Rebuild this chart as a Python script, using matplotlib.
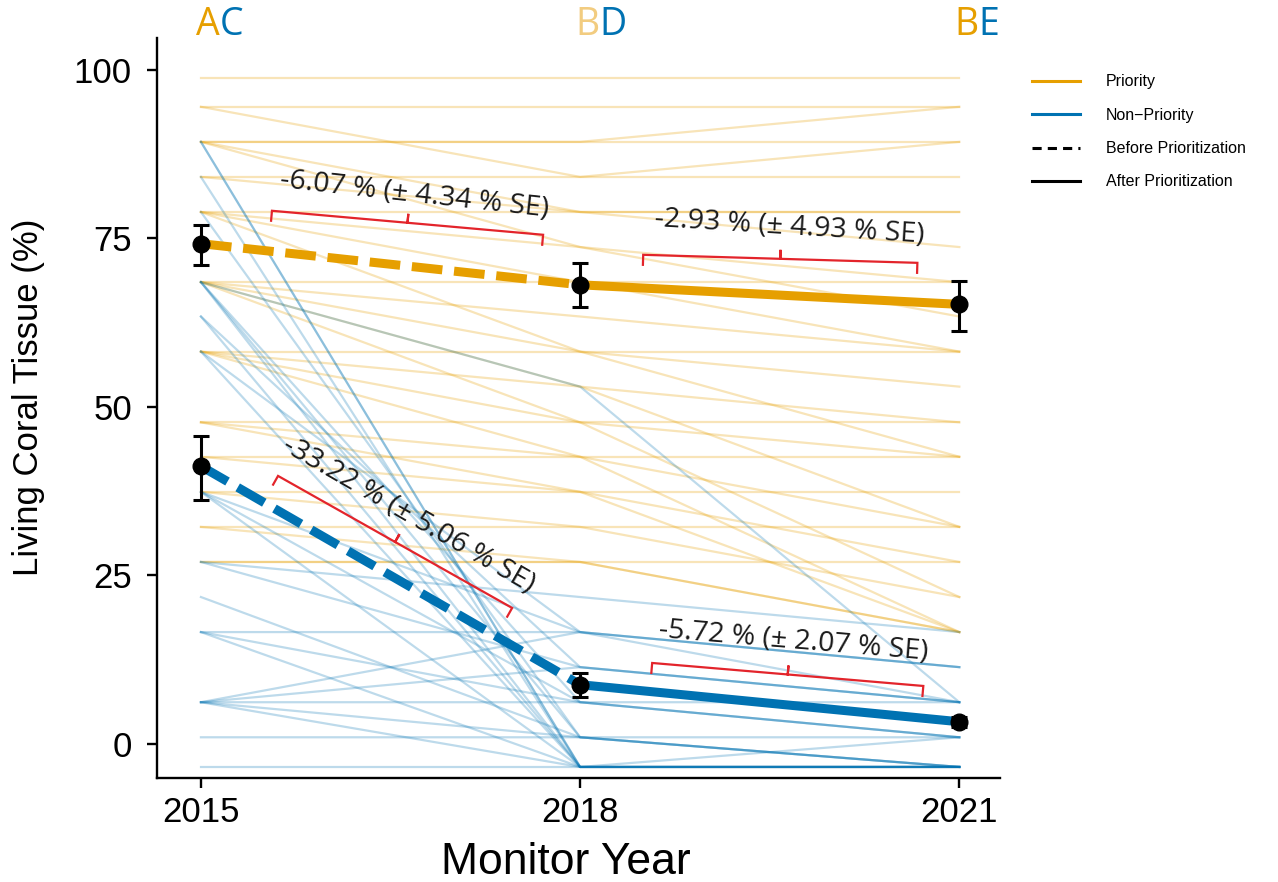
import numpy as np
import matplotlib.pyplot as plt
from matplotlib.lines import Line2D
from matplotlib.transforms import blended_transform_factory

years = [2015, 2018, 2021]

# individual colonies, priority (orange)
pri_2015 = [98.7, 94.5, 94.5, 89.3, 89.3, 89.3, 89.3, 84.1, 84.1, 78.9, 78.9, 78.9, 78.9,
            68.5, 68.5, 68.5, 68.5, 68.5, 58.2, 58.2, 58.2, 58.2, 47.7, 47.7, 47.7,
            42.6, 42.6, 37.4, 37.4, 32.2, 32.2, 27.0, 27.0]
pri_2018 = [98.7, 94.5, 84.1, 89.3, 89.3, 78.9, 73.7, 84.1, 78.9, 78.9, 73.7, 68.5, 58.2,
            68.5, 63.4, 58.2, 53.0, 47.7, 58.2, 53.0, 47.7, 42.6, 47.7, 42.6, 37.4,
            42.6, 37.4, 37.4, 32.2, 32.2, 27.0, 27.0, 27.0]
pri_2021 = [98.7, 94.5, 89.3, 89.3, 94.5, 78.9, 68.5, 84.1, 73.7, 78.9, 63.4, 58.2, 42.6,
            68.5, 58.2, 53.0, 32.2, 21.8, 58.2, 47.7, 42.6, 16.6, 47.7, 32.2, 16.6,
            42.6, 27.0, 37.4, 21.8, 32.2, 16.6, 27.0, 16.6]

# individual colonies, non-priority (blue)
non_2015 = [89.3, 89.3, 84.1, 78.9, 68.5, 68.5, 68.5, 68.5, 63.4, 63.4, 58.2, 58.2,
            37.4, 37.4, 37.4, 27.0, 27.0, 21.8, 16.6, 16.6, 16.6,
            6.2, 6.2, 6.2, 6.2, 6.2, 1.0, -3.4]
non_2018 = [-3.4, -3.4, -3.4, 1.0, 53.0, -3.4, 1.0, 6.2, -3.4, 11.4, -3.4, 16.6,
            -3.4, 16.6, 6.2, 21.8, 11.4, 1.0, 16.6, 6.2, -3.4,
            16.6, 6.2, 1.0, -3.4, 11.4, 1.0, -3.4]
non_2021 = [-3.4, 1.0, -3.4, -3.4, 6.2, -3.4, 1.0, 1.0, -3.4, 6.2, -3.4, 11.4,
            -3.4, 11.4, 1.0, 16.6, 6.2, -3.4, 11.4, 6.2, -3.4,
            6.2, 1.0, -3.4, -3.4, 6.2, -3.4, -3.4]

# group means and SE
pri_mean = [74.2, 68.1, 65.2]
pri_lo = [71.1, 64.8, 61.3]
pri_hi = [76.9, 71.4, 68.7]
non_mean = [41.2, 8.8, 3.3]
non_lo = [36.2, 7.0, 2.5]
non_hi = [45.7, 10.5, 4.0]

change_labels = ["-6.07 % (\u00b1 4.34 % SE)", "-2.93 % (\u00b1 4.93 % SE)",
                 "-33.22 % (\u00b1 5.06 % SE)", "-5.72 % (\u00b1 2.07 % SE)"]

ORANGE = "#E69F00"
BLUE = "#0072B2"

plt.rcParams['font.family'] = ['Liberation Sans', 'DejaVu Sans']

fig = plt.figure(figsize=(12.78, 8.82), dpi=100)
ax = fig.add_axes([0.1228, 0.1179, 0.66, 0.839])
ax.set_xlim(2014.652, 2021.325)
ax.set_ylim(-5.04, 104.7)

for a, b, c in zip(pri_2015, pri_2018, pri_2021):
    ax.plot(years, [a, b, c], color=ORANGE, alpha=0.28, lw=1.6, zorder=1)
for a, b, c in zip(non_2015, non_2018, non_2021):
    ax.plot(years, [a, b, c], color=BLUE, alpha=0.26, lw=1.6, zorder=2)

for m, lo, hi, col in [(pri_mean, pri_lo, pri_hi, ORANGE), (non_mean, non_lo, non_hi, BLUE)]:
    ax.plot(years[:2], m[:2], color=col, lw=6.5, dashes=(3.4, 1.3), solid_capstyle='butt', zorder=4)
    ax.plot(years[1:], m[1:], color=col, lw=6.5, solid_capstyle='butt', zorder=4)
    err = [np.array(m) - np.array(lo), np.array(hi) - np.array(m)]
    ax.errorbar(years, m, yerr=err, fmt='o', color='black', ms=12, elinewidth=2.2,
                capsize=6, capthick=2.2, zorder=5)


def brace(x0, y0, x1, y1, tick=10, mid=9):
    p0 = ax.transData.transform((x0, y0))
    p1 = ax.transData.transform((x1, y1))
    d = (p1 - p0) / np.hypot(*(p1 - p0))
    n = np.array([d[1], -d[0]])
    pm = (p0 + p1) / 2
    pts = [p0 + n * tick, p0, pm, pm - n * mid, pm, p1, p1 + n * tick]
    pts = ax.transData.inverted().transform(np.array(pts))
    ax.plot(pts[:, 0], pts[:, 1], color='#E3242B', lw=1.6, zorder=6, solid_joinstyle='miter')


brace(2015.562, 79.08, 2017.707, 75.52)
brace(2018.499, 72.55, 2020.668, 71.36)
brace(2015.610, 39.76, 2017.462, 20.18)
brace(2018.570, 12.02, 2020.715, 8.61)

text_pos = [(2016.69, 81.4, -6.3), (2019.66, 76.6, -3.5), (2016.64, 33.9, -30), (2019.69, 15.2, -4.8)]
for lab, (tx, ty, rot) in zip(change_labels, text_pos):
    ax.text(tx, ty, lab, rotation=rot, rotation_mode='anchor', ha='center', va='center',
            fontsize=20.5, family=['Open Sans', 'DejaVu Sans'], color='#1a1a1a', zorder=7)

# letters above columns
trans = blended_transform_factory(ax.transData, ax.transAxes)
letters = [("A", ORANGE, "C", BLUE), ("B", "#F2CC80", "D", BLUE), ("B", ORANGE, "E", BLUE)]
for yr, (l1, c1, l2, c2) in zip(years, letters):
    t1 = ax.text(yr - 0.04, 1.004, l1, color=c1, fontsize=27, ha='left', va='baseline',
                 transform=trans, clip_on=False, family=['Open Sans', 'DejaVu Sans'])
    ax.annotate(l2, xy=(1, 0), xycoords=t1, color=c2, fontsize=27, ha='left', va='bottom',
                family=['Open Sans', 'DejaVu Sans'], annotation_clip=False)

for s in ['top', 'right']:
    ax.spines[s].set_visible(False)
for s in ['left', 'bottom']:
    ax.spines[s].set_linewidth(1.7)
ax.set_xticks(years)
ax.set_yticks([0, 25, 50, 75, 100])
ax.tick_params(labelsize=25, width=1.7, length=7)
ax.tick_params(axis='y', pad=11)
ax.tick_params(axis='x', pad=6)
ax.set_xlabel("Monitor Year", fontsize=32)
ax.set_ylabel("Living Coral Tissue (%)", fontsize=25)
ax.yaxis.set_label_coords(-0.133, 0.515)
ax.xaxis.set_label_coords(0.485, -0.086)

handles = [Line2D([], [], color=ORANGE, lw=2.2),
           Line2D([], [], color=BLUE, lw=2.2),
           Line2D([], [], color='black', lw=2.2, dashes=(3, 2)),
           Line2D([], [], color='black', lw=2.2)]
labels = ["Priority", "Non\u2212Priority", "Before Prioritization", "After Prioritization"]
fig.legend(handles, labels, loc='upper left', bbox_to_anchor=(1018 / 1278, 1 - 60 / 882),
           frameon=False, fontsize=11.5, handlelength=3.0, handletextpad=1.6, labelspacing=1.15)

fig.savefig("out.png", dpi=100)
